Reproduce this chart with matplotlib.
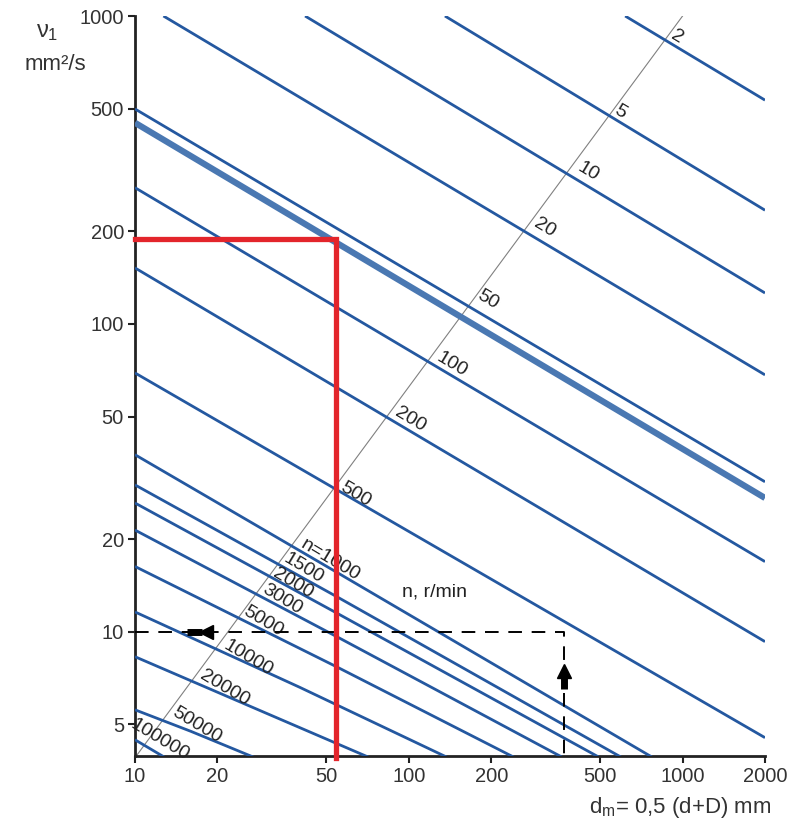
import matplotlib.pyplot as plt
from matplotlib.ticker import FixedLocator, NullLocator

plt.rcParams['font.family'] = ['Liberation Sans', 'DejaVu Sans']
plt.rcParams['mathtext.fontset'] = 'custom'
plt.rcParams['mathtext.rm'] = 'Liberation Sans'
plt.rcParams['mathtext.it'] = 'Liberation Sans'

# speed lines n (r/min): dm (mm) and required viscosity nu1 (mm2/s)
n_labels = ['2', '5', '10', '20', '50', '100', '200', '500', 'n=1000', '1500',
            '2000', '3000', '5000', '10000', '20000', '50000', '100000']
line_dm = [[617, 2000], [135.5, 2000], [41.8, 2000], [12.7, 2000], [10, 2000],
           [10, 2000], [10, 2000], [10, 2000],
           [10, 54.6, 780], [10, 54.6, 601], [10, 54.6, 499], [10, 54.6, 366],
           [10, 54.6, 244], [10, 40, 139], [10, 30, 72], [10, 16, 27.4], [10, 12.9]]
line_nu = [[1000, 533], [1000, 234], [1000, 126], [1000, 68.3], [499, 30.7],
           [277, 16.9], [152, 9.29], [69.3, 4.53],
           [37.6, 15.6, 3.9], [30.0, 13.0, 3.9], [26.2, 11.5, 3.9], [21.4, 9.64, 3.9],
           [16.3, 7.69, 3.9], [11.6, 6.6, 3.9], [8.3, 5.45, 3.9], [5.58, 4.75, 3.9], [4.46, 3.9]]

# label positions along the diagonal guide
label_dm = [955, 590, 451, 314, 195, 144, 101, 63.7, 51.5, 41.1,
            37.8, 34.4, 29.3, 25.9, 21.3, 16.8, 12.3]
label_nu = [855, 488, 312, 205, 120, 73.6, 48.8, 27.9, 17.1, 16.1,
            14.4, 12.7, 10.8, 8.24, 6.58, 4.99, 4.46]

guide_dm = [10, 1000]
guide_nu = [3.9, 1000]

# highlighted operating line
thick_dm = [10, 2000]
thick_nu = [450, 27.2]

# red example: dm = 54 mm -> nu1 = 188 mm2/s
red_dm = [10, 54.2, 54.2]
red_nu = [188, 188, 3.9]

# dashed example: dm = 369 mm -> nu1 = 10 mm2/s
dash_dm = [10, 369, 369]
dash_nu = [10, 10, 3.9]

x_ticks = [10, 20, 50, 100, 200, 500, 1000, 2000]
y_ticks = [5, 10, 20, 50, 100, 200, 500, 1000]

blue = '#2458a0'

fig = plt.figure(figsize=(8.03, 8.19), dpi=100)
ax = fig.add_axes([135 / 803, 1 - 756 / 819, 630 / 803, 740 / 819])
ax.set_xscale('log')
ax.set_yscale('log')
ax.set_xlim(10, 2000)
ax.set_ylim(3.95, 1000)

ax.plot(guide_dm, guide_nu, color='#808080', lw=0.8, zorder=2)

for dm, nu in zip(line_dm, line_nu):
    ax.plot(dm, nu, color=blue, lw=2.0, solid_capstyle='butt', zorder=3)
ax.plot(thick_dm, thick_nu, color='#4a78b2', lw=4.5, solid_capstyle='butt', zorder=3)

for lab, x, y in zip(n_labels, label_dm, label_nu):
    ax.text(x, y, lab, rotation=-31, ha='center', va='center', fontsize=14,
            color='#222222', rotation_mode='anchor', zorder=4)

ax.plot(dash_dm, dash_nu, color='black', lw=1.4, dashes=(7, 5), zorder=4)
# arrows on the dashed path
ax.plot([15.5, 17.6], [10, 10], color='black', lw=5, solid_capstyle='butt', zorder=5)
ax.plot([18.2], [10], marker='<', color='black', ms=10, zorder=5)
ax.plot([369, 369], [6.5, 7.1], color='black', lw=5, solid_capstyle='butt', zorder=5)
ax.plot([369], [7.45], marker='^', color='black', ms=10, zorder=5)

ax.plot(red_dm, red_nu, color='#e3252b', lw=3.8, solid_joinstyle='miter', zorder=6, clip_on=False)

ax.text(94.4, 13.5, 'n, r/min', fontsize=14, ha='left', va='center', color='#222222')

ax.spines['top'].set_visible(False)
ax.spines['right'].set_visible(False)
ax.spines['left'].set_linewidth(2)
ax.spines['bottom'].set_linewidth(2)
ax.spines['left'].set_color('#222222')
ax.spines['bottom'].set_color('#222222')

ax.xaxis.set_major_locator(FixedLocator(x_ticks))
ax.yaxis.set_major_locator(FixedLocator(y_ticks))
ax.xaxis.set_minor_locator(NullLocator())
ax.yaxis.set_minor_locator(NullLocator())
ax.set_xticklabels([str(v) for v in x_ticks])
ax.set_yticklabels([str(v) for v in y_ticks])
ax.tick_params(axis='both', length=5, width=1.5, labelsize=14.5, color='#222222',
               labelcolor='#333333', pad=3)

fig.text(47 / 803, 1 - 32 / 819, r'$\nu_1$', fontsize=17, ha='center', va='center', color='#333333')
fig.text(55 / 803, 1 - 64 / 819, 'mm²/s', fontsize=16, ha='center', va='center', color='#333333')
fig.text(680 / 803, 1 - 808 / 819, r'd$_{m}$= 0,5 (d+D) mm', fontsize=16, ha='center',
         va='center', color='#333333')

plt.savefig('out.png', dpi=100)
